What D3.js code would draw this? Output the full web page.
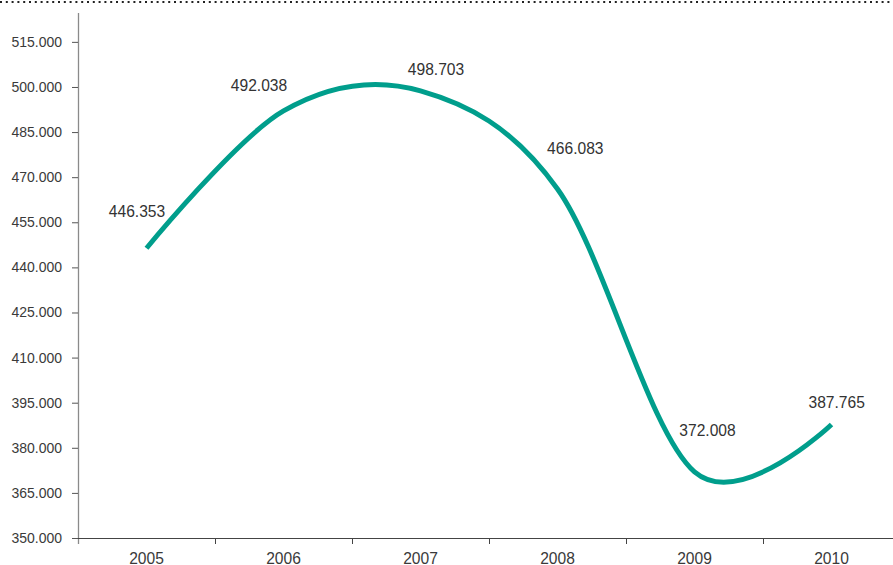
<!DOCTYPE html>
<html>
<head>
<meta charset="utf-8">
<script src="https://cdn.jsdelivr.net/npm/d3@7/dist/d3.min.js"></script>
<style>
  html, body { margin: 0; padding: 0; background: #fff; }
  svg { display: block; font-family: "Liberation Sans", Arial, sans-serif; }
</style>
</head>
<body>
<svg id="chart" width="893" height="565"></svg>
<script>
// ---- data ----
const years = ["2005", "2006", "2007", "2008", "2009", "2010"];
const values = [446353, 492038, 498703, 466083, 372008, 387765];
const yTickValues = [350000, 365000, 380000, 395000, 410000, 425000, 440000, 455000, 470000, 485000, 500000, 515000];
const yMin = 350000;
const yMax = 524600;

// label placement offsets (pixels, relative to each point)
const labelDx = [-9.5, -24.5, 15.5, 17.8, 13, 5.2];
const labelDy = [-31, -20.2, -15.9, -34.6, -35.8, -16];

const W = 893, H = 565;
const plotLeft = 78, plotBottom = 538, plotTop = 13, rightRange = 900;

const svg = d3.select("#chart");
const locale = d3.formatLocale({decimal: ",", thousands: ".", grouping: [3], currency: ["", ""]});
const fmt = locale.format(",");

const xBand = d3.scaleBand().domain(years).range([plotLeft, rightRange]).padding(0);
const xc = d => xBand(d) + xBand.bandwidth() / 2;
const y = d3.scaleLinear().domain([yMin, yMax]).range([plotBottom, plotTop]);

// dotted top border
svg.append("line")
  .attr("x1", 0).attr("x2", W).attr("y1", 2).attr("y2", 2)
  .attr("stroke", "#222").attr("stroke-width", 2)
  .attr("stroke-dasharray", "2,3.8");

// y axis
const yAxis = svg.append("g")
  .attr("transform", `translate(${plotLeft},0)`)
  .call(d3.axisLeft(y).tickValues(yTickValues).tickSize(6).tickSizeOuter(0).tickPadding(10).tickFormat(fmt));
yAxis.select(".domain").attr("stroke", "#8a8a8a").attr("stroke-width", 1.3)
  .attr("d", `M0.5,${plotTop}V${plotBottom + 6}`);
yAxis.selectAll(".tick line").attr("stroke", "#555");
yAxis.selectAll(".tick text").attr("fill", "#3a3a3a").style("font-size", "14px")
  .attr("font-family", "Liberation Sans, Arial, sans-serif");

// x axis
const xAxisG = svg.append("g").attr("transform", `translate(0,${plotBottom})`);
xAxisG.append("line").attr("x1", plotLeft).attr("x2", W).attr("y1", 0.5).attr("y2", 0.5)
  .attr("stroke", "#444").attr("stroke-width", 1.2);
xAxisG.selectAll("line.btick").data(years.slice(1))
  .join("line").attr("class", "btick")
  .attr("x1", d => xBand(d) + 0.5).attr("x2", d => xBand(d) + 0.5)
  .attr("y1", 0).attr("y2", 6)
  .attr("stroke", "#444").attr("stroke-width", 1);
xAxisG.selectAll("text").data(years)
  .join("text")
  .attr("x", d => xc(d)).attr("y", 25.5)
  .attr("text-anchor", "middle")
  .attr("fill", "#3a3a3a").style("font-size", "15.6px")
  .text(d => d);

// line
const pts = years.map((d, i) => [xc(d), y(values[i])]);
const line = d3.line().curve(d3.curveCardinal.tension(0));
svg.append("path")
  .attr("d", line(pts))
  .attr("fill", "none")
  .attr("stroke", "#009e8c")
  .attr("stroke-width", 5)
  .attr("stroke-linejoin", "round");

// data labels
svg.selectAll("text.lbl").data(years)
  .join("text").attr("class", "lbl")
  .attr("x", (d, i) => xc(d) + labelDx[i])
  .attr("y", (d, i) => y(values[i]) + labelDy[i])
  .attr("text-anchor", "middle")
  .attr("fill", "#333")
  .style("font-size", "15.6px")
  .text((d, i) => fmt(values[i]));
</script>
</body>
</html>
